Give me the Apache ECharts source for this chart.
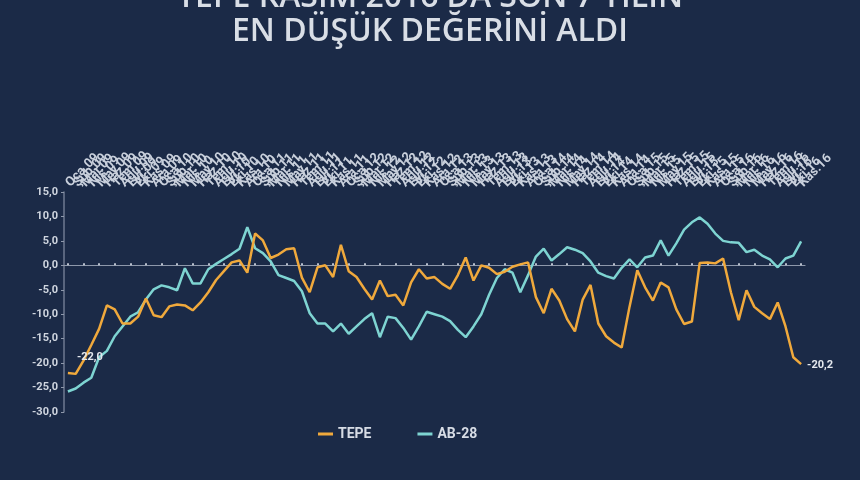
<!DOCTYPE html>
<html>
<head>
<meta charset="utf-8">
<script src="https://cdn.jsdelivr.net/npm/echarts@6/dist/echarts.min.js"></script>
<style>
html,body{margin:0;padding:0;background:#1b2a47;}
#chart{width:860px;height:480px;}
</style>
</head>
<body>
<div id="chart"></div>
<script>
const monthNames = ['Oca','Şub','Mar','Nis','May','Haz','Tem','Ağu','Eyl','Eki','Kas','Ara'];
const years = ['09','10','11','12','13','14','15','16'];
const categories = [];
years.forEach(function (y) { monthNames.forEach(function (m) { categories.push(m + '.' + y); }); });
categories.splice(95); // Oca.09 ... Kas.16

const tepe = [
  -22.0, -22.2, -19.5, -16.3, -13.0, -8.2, -9.0, -11.9, -11.9, -10.5,
  -6.8, -10.2, -10.6, -8.4, -8.0, -8.2, -9.2, -7.6, -5.5, -3.0,
  -1.2, 0.6, 1.0, -1.5, 6.5, 5.1, 1.5, 2.2, 3.3, 3.5,
  -2.5, -5.5, -0.4, 0.0, -2.4, 4.2, -1.2, -2.4, -4.8, -7.0,
  -3.1, -6.3, -6.0, -8.2, -3.5, -0.8, -2.7, -2.4, -3.8, -4.8,
  -2.0, 1.6, -3.1, 0.0, -0.5, -1.8, -1.3, -0.3, 0.2, 0.6,
  -6.5, -9.8, -4.8, -7.2, -11.0, -13.5, -7.0, -4.0, -11.9, -14.5,
  -15.8, -16.8, -8.5, -1.0, -4.5, -7.2, -3.5, -4.5, -9.0, -12.0,
  -11.5, 0.5, 0.6, 0.4, 1.4, -5.5, -11.2, -5.1, -8.5, -9.8,
  -11.0, -7.6, -12.5, -18.8, -20.2
];

const ab28 = [
  -25.8, -25.2, -24.0, -23.0, -18.8, -17.5, -14.5, -12.5, -10.5, -9.6,
  -7.0, -4.9, -4.1, -4.5, -5.1, -0.6, -3.7, -3.7, -0.8, 0.3,
  1.3, 2.3, 3.4, 7.8, 3.5, 2.5, 0.8, -2.0, -2.6, -3.2,
  -5.3, -9.8, -11.9, -11.9, -13.5, -11.9, -14.0, -12.5, -11.0, -9.8,
  -14.7, -10.5, -10.8, -12.8, -15.2, -12.5, -9.5, -10.0, -10.5, -11.4,
  -13.2, -14.7, -12.5, -10.0, -6.0, -2.6, -0.8, -1.5, -5.5, -2.0,
  1.8, 3.4, 1.0, 2.3, 3.7, 3.2, 2.5, 0.8, -1.5, -2.2,
  -2.7, -0.5, 1.2, -0.4, 1.6, 2.0, 5.1, 2.0, 4.5, 7.3,
  8.8, 9.8, 8.5, 6.5, 5.0, 4.7, 4.6, 2.7, 3.2, 2.0,
  1.2, -0.4, 1.4, 2.0, 4.9
];

const yMin = -30, yMax = 15, yStep = 5;
const seriesNames = ['TEPE', 'AB-28'];

const fmt = function (v) { return v.toFixed(1).replace('.', ','); };

function withEndLabels(arr) {
  return arr.map(function (v, i) {
    if (i === 0) {
      return { value: v, label: { show: true, position: 'right', offset: [4, -16] } };
    }
    if (i === arr.length - 1) {
      return { value: v, label: { show: true, position: 'right', offset: [1, 1] } };
    }
    return v;
  });
}

const chart = echarts.init(document.getElementById('chart'), null, { renderer: 'canvas' });
const option = {
  backgroundColor: '#1b2a47',
  animation: false,
  title: {
    text: "TEPE KASIM 2016'DA SON 7 YILIN\nEN DÜŞÜK DEĞERİNİ ALDI",
    left: 'center',
    top: -24,
    textStyle: {
      color: '#d9dee6',
      fontFamily: 'Open Sans',
      fontWeight: 600,
      fontSize: 32,
      lineHeight: 34
    }
  },
  legend: {
    bottom: 34,
    left: 313,
    itemGap: 46,
    itemWidth: 15,
    itemHeight: 3,
    icon: 'rect',
    textStyle: { color: '#d7dce5', fontSize: 14, fontWeight: 'bold', fontFamily: 'Roboto' },
    data: seriesNames
  },
  grid: { left: 64, right: 55, top: 192, bottom: 68 },
  xAxis: [
    {
      type: 'category',
      data: categories,
      position: 'top',
      boundaryGap: true,
      axisLine: { show: false, onZero: false },
      axisTick: { show: false },
      axisLabel: {
        interval: 0,
        rotate: -45,
        align: 'left',
        verticalAlign: 'middle',
        margin: 7,
        color: '#c9d0dc',
        fontSize: 13,
        fontWeight: 'bold',
        fontFamily: 'Roboto'
      },
      splitLine: { show: false }
    },
    {
      type: 'category',
      data: categories,
      position: 'bottom',
      boundaryGap: true,
      axisLine: { show: true, onZero: true, lineStyle: { color: '#8e98ab', width: 1.2 } },
      axisTick: { show: true, interval: 1, length: 2, inside: true, alignWithLabel: true, lineStyle: { color: '#b9c0cd', width: 2 } },
      axisLabel: { show: false },
      splitLine: { show: false }
    }
  ],
  yAxis: {
    type: 'value',
    min: yMin,
    max: yMax,
    interval: yStep,
    axisLine: { show: true, lineStyle: { color: '#6f7a90', width: 1.5 } },
    axisTick: { show: true, length: 3, lineStyle: { color: '#8e98ab' } },
    splitLine: { show: false },
    axisLabel: {
      color: '#cfd5df',
      fontSize: 11,
      fontWeight: 'bold',
      fontFamily: 'Roboto',
      margin: 6,
      formatter: fmt
    }
  },
  series: [
    {
      name: seriesNames[0],
      type: 'line',
      data: withEndLabels(tepe),
      showSymbol: true,
      showAllSymbol: true,
      symbol: 'circle',
      symbolSize: 0,
      lineStyle: { color: '#f0a93c', width: 2.5 },
      itemStyle: { color: '#f0a93c' },
      label: { show: false, color: '#e4e8ee', fontSize: 11, fontWeight: 'bold', fontFamily: 'Roboto', formatter: function (p) { return fmt(p.value); } },
      z: 3
    },
    {
      name: seriesNames[1],
      type: 'line',
      data: ab28,
      showSymbol: false,
      symbol: 'none',
      lineStyle: { color: '#7ed4d2', width: 2.5 },
      itemStyle: { color: '#7ed4d2' },
      z: 2
    }
  ]
};
chart.setOption(option);
</script>
</body>
</html>
